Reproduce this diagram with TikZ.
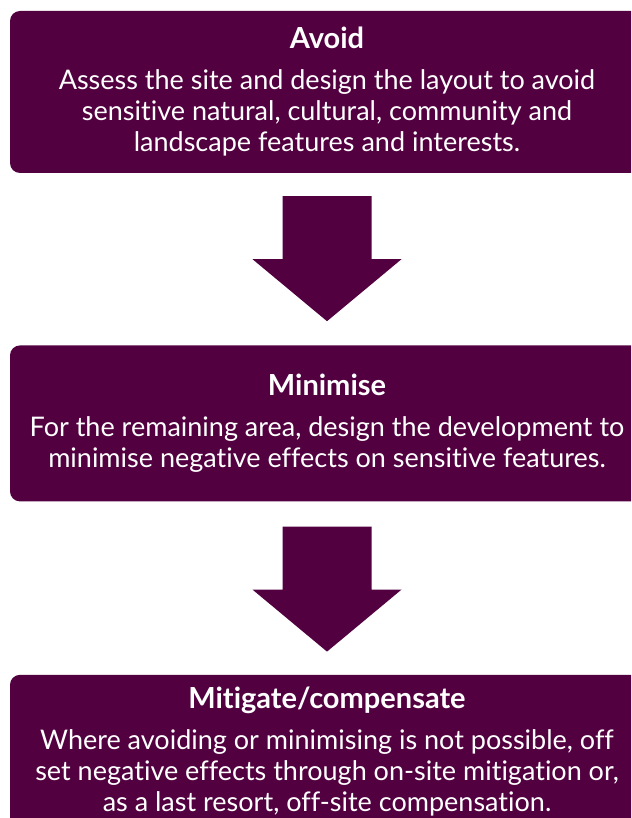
\documentclass[tikz,border=0pt]{standalone}
\usepackage{fontspec}
\setmainfont{Lato}[Ligatures={NoCommon}]
\usetikzlibrary{positioning}
\definecolor{plum}{RGB}{82,0,64}

\begin{document}
\begin{tikzpicture}[x=1pt, y=1pt]
	\tikzset{
		stage/.style={rounded corners=10pt, fill=plum, text=white, align=center, minimum width=634pt, inner xsep=0pt, font=\fontsize{27}{31}\selectfont},
		downarrow/.pic={\fill[plum] (-44.5,0) -- (44.5,0) -- (44.5,-63) -- (74.5,-63) -- (0,-125) -- (-74.5,-63) -- (-44.5,-63) -- cycle;}
	}
	\useasboundingbox (0,0) rectangle (631,-818);
	\clip (0,0) rectangle (631,-818);

	\node[stage, minimum height=162pt] (avoid) at (327,-92)
		{{\fontsize{29}{31}\selectfont\bfseries Avoid}\\[10pt]Assess the site and design the layout to avoid\\ sensitive natural, cultural, community and\\ landscape features and interests.};
	\node[stage, minimum height=156pt, below=172pt of avoid] (minimise)
		{{\fontsize{29}{31}\selectfont\bfseries Minimise}\\[10pt]For the remaining area, design the development to\\ minimise negative effects on sensitive features.};
	\node[stage, minimum height=154pt, below=173pt of minimise] (mitigate)
		{{\fontsize{29}{31}\selectfont\bfseries Mitigate/compensate}\\[10pt]Where avoiding or minimising is not possible, off\\ set negative effects through on-site mitigation or,\\ as a last resort, off-site compensation.};

	\pic at ([yshift=-23pt]avoid.south) {downarrow};
	\pic at ([yshift=-25pt]minimise.south) {downarrow};
\end{tikzpicture}
\end{document}
